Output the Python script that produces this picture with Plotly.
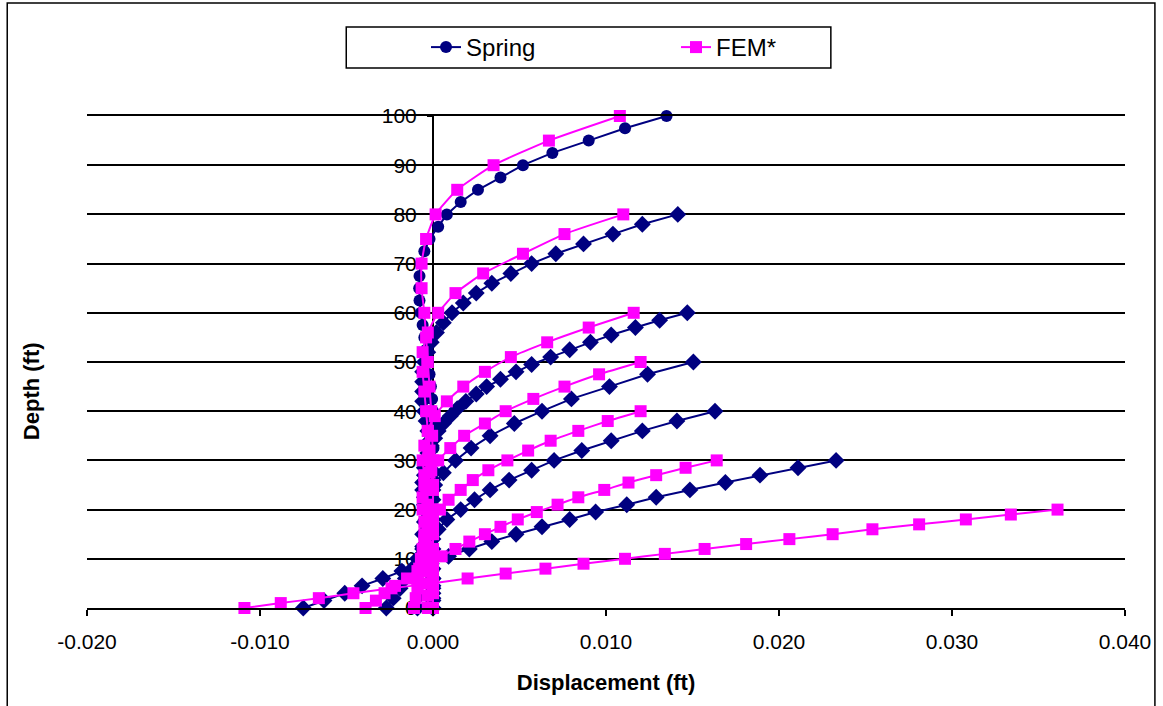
import plotly.graph_objects as go

# ---------------- data (depth in ft, displacement in ft) ----------------
spring_100_depth = [100, 97.5, 95, 92.5, 90, 87.5, 85, 82.5, 80, 77.5, 75, 72.5, 70, 67.5, 65, 62.5, 60,
                    57.5, 55, 52.5, 50, 47.5, 45, 42.5, 40, 37.5, 35, 32.5, 30, 27.5, 25, 22.5, 20,
                    17.5, 15, 12.5, 10, 7.5, 5, 2.5, 0]
spring_100_disp = [0.0135, 0.0111, 0.0090, 0.0069, 0.0052, 0.0039, 0.0026, 0.0016, 0.0008, 0.0003, -0.0002,
                   -0.0005, -0.0007, -0.00078, -0.0008, -0.00078, -0.0007, -0.0006, -0.0005, -0.0004, -0.0003,
                   -0.0002, -0.00012, -0.00005, 0.0, 0.00002, 0.00003, 0.00003, 0.00002, 0.00001, 0.0,
                   0.0, 0.0, 0.0, 0.0, 0.0, 0.0, 0.0, 0.0, 0.0, 0.0]

spring_80_depth = [80, 78, 76, 74, 72, 70, 68, 66, 64, 62, 60, 58, 56, 54, 52, 50, 48, 46, 44, 42, 40,
                   38, 36, 34, 32, 30, 28, 26, 24, 22, 20, 18, 16, 14, 12, 10, 8, 6, 4, 2, 0]
spring_80_disp = [0.01415, 0.0121, 0.0104, 0.0087, 0.0071, 0.0057, 0.0045, 0.0034, 0.0025, 0.00175, 0.0011,
                  0.0006, 0.0002, -0.0001, -0.0003, -0.0005, -0.0006, -0.0006, -0.0006, -0.0006, -0.0005,
                  -0.0004, -0.0003, -0.0002, -0.00015, -0.0001, -0.00005, 0.0, 0.0, 0.0, 0.0,
                  0.0, 0.0, 0.0, 0.0, 0.0, 0.0, 0.0, 0.0, 0.0, 0.0]

spring_60_depth = [60, 58.5, 57, 55.5, 54, 52.5, 51, 49.5, 48, 46.5, 45, 43.5, 42, 40.5, 39, 37.5, 36,
                   34.5, 33, 31.5, 30, 28.5, 27, 25.5, 24, 22.5, 21, 19.5, 18, 16.5, 15, 13.5, 12,
                   10.5, 9, 7.5, 6, 4.5, 3, 1.5, 0]
spring_60_disp = [0.0147, 0.0131, 0.0117, 0.0103, 0.0091, 0.0079, 0.0068, 0.0057, 0.0048, 0.0039, 0.0031,
                  0.0025, 0.0019, 0.0014, 0.0010, 0.0006, 0.0003, 0.0001, -0.0001, -0.0003, -0.0004,
                  -0.0005, -0.0005, -0.0006, -0.0006, -0.0005, -0.0005, -0.0004, -0.0004, -0.0003, -0.0003,
                  -0.0002, -0.0002, -0.0001, -0.0001, -0.0001, 0.0, 0.0, 0.0, 0.0, 0.0]

spring_50_depth = [50, 47.5, 45, 42.5, 40, 37.5, 35, 32.5, 30, 27.5, 25, 22.5, 20, 17.5, 15, 12.5, 10, 7.5, 5, 2.5, 0]
spring_50_disp = [0.01505, 0.0124, 0.0102, 0.0080, 0.0063, 0.0047, 0.0033, 0.0022, 0.0013, 0.0006, 0.0001,
                  -0.0002, -0.0004, -0.0005, -0.0006, -0.0006, -0.0006, -0.0007, -0.0007, -0.0008, -0.0009]

spring_40_depth = [40, 38, 36, 34, 32, 30, 28, 26, 24, 22, 20, 18, 16, 14, 12, 10, 8, 6, 4, 2, 0]
spring_40_disp = [0.0163, 0.0141, 0.0121, 0.0103, 0.0086, 0.0070, 0.0057, 0.0044, 0.0033, 0.0024, 0.0016,
                  0.0008, 0.0003, -0.0002, -0.0006, -0.0009, -0.0012, -0.0016, -0.0019, -0.0023, -0.0027]

spring_30_depth = [30, 28.5, 27, 25.5, 24, 22.5, 21, 19.5, 18, 16.5, 15, 13.5, 12, 10.5, 9, 7.5, 6, 4.5, 3, 1.5, 0]
spring_30_disp = [0.0233, 0.0211, 0.0189, 0.0169, 0.01485, 0.0129, 0.0112, 0.0094, 0.0079, 0.0063, 0.0048,
                  0.0034, 0.0021, 0.0009, -0.0004, -0.0018, -0.0029, -0.0041, -0.0051, -0.0063, -0.0075]

fem_100_depth = [100, 95, 90, 85, 80, 75, 70, 65, 60, 55, 50, 45, 40, 35, 30, 25, 20, 15, 10, 5, 0]
fem_100_disp = [0.0108, 0.0067, 0.0035, 0.0014, 0.00015, -0.0004, -0.00066, -0.00066, -0.0005, -0.0004, -0.0003,
                -0.0002, -0.0001, -0.00005, 0.0, 0.0, 0.0, 0.0, 0.0, 0.0, 0.0]

fem_80_depth = [80, 76, 72, 68, 64, 60, 56, 52, 48, 44, 40, 36, 32, 28, 24, 20, 16, 12, 8, 4, 0]
fem_80_disp = [0.0110, 0.0076, 0.0052, 0.0029, 0.0013, 0.0003, -0.0003, -0.0006, -0.0006, -0.0005, -0.0004,
               -0.0003, -0.0002, -0.0001, 0.0, 0.0, 0.0, 0.0, 0.0, 0.0, 0.0]

fem_60_depth = [60, 57, 54, 51, 48, 45, 42, 39, 36, 33, 30, 27, 24, 21, 18, 15, 12, 9, 6, 3, 0]
fem_60_disp = [0.0116, 0.0090, 0.0066, 0.0045, 0.0030, 0.00175, 0.0008, 0.0001, -0.0003, -0.0005, -0.0006,
               -0.0005, -0.0004, -0.0003, -0.0002, -0.0002, -0.0001, -0.0001, 0.0, 0.0, 0.0]

fem_50_depth = [50, 47.5, 45, 42.5, 40, 37.5, 35, 32.5, 30, 27.5, 25, 22.5, 20, 17.5, 15, 12.5, 10, 7.5, 5, 2.5, 0]
fem_50_disp = [0.0120, 0.0096, 0.0076, 0.0058, 0.0042, 0.0030, 0.0018, 0.0010, 0.0003, -0.0002, -0.0005,
               -0.0006, -0.0006, -0.0005, -0.0005, -0.0004, -0.0004, -0.0003, -0.0003, -0.0003, -0.0003]

fem_40_depth = [40, 38, 36, 34, 32, 30, 28, 26, 24, 22, 20, 18, 16, 14, 12, 10, 8, 6, 4, 2, 0]
fem_40_disp = [0.0120, 0.0101, 0.0084, 0.0068, 0.0055, 0.0043, 0.0032, 0.0023, 0.0016, 0.0009, 0.0004,
               0.0000, -0.0003, -0.0005, -0.0006, -0.0007, -0.0008, -0.0009, -0.0009, -0.0010, -0.0011]

fem_30_depth = [30, 28.5, 27, 25.5, 24, 22.5, 21, 19.5, 18, 16.5, 15, 13.5, 12, 10.5, 9, 7.5, 6, 4.5, 3, 1.5, 0]
fem_30_disp = [0.0164, 0.0146, 0.0129, 0.0113, 0.0099, 0.0084, 0.0072, 0.0060, 0.0049, 0.0039, 0.0030,
               0.0021, 0.0013, 0.0005, -0.0002, -0.0009, -0.0015, -0.0022, -0.0028, -0.0033, -0.0039]

fem_20_depth = [20, 19, 18, 17, 16, 15, 14, 13, 12, 11, 10, 9, 8, 7, 6, 5, 4, 3, 2, 1, 0]
fem_20_disp = [0.0361, 0.0334, 0.0308, 0.0281, 0.0254, 0.0231, 0.0206, 0.0181, 0.0157, 0.0134, 0.0111,
               0.0087, 0.0065, 0.0042, 0.0020, -0.0001, -0.0024, -0.0046, -0.0066, -0.0088, -0.0109]

x_tick_vals = [-0.02, -0.01, 0.0, 0.01, 0.02, 0.03, 0.04]
x_tick_text = ["-0.020", "-0.010", "0.000", "0.010", "0.020", "0.030", "0.040"]
y_tick_vals = [0, 10, 20, 30, 40, 50, 60, 70, 80, 90, 100]

spring_series = [
    (spring_100_disp, spring_100_depth, "circle"),
    (spring_80_disp, spring_80_depth, "diamond"),
    (spring_60_disp, spring_60_depth, "diamond"),
    (spring_50_disp, spring_50_depth, "diamond"),
    (spring_40_disp, spring_40_depth, "diamond"),
    (spring_30_disp, spring_30_depth, "diamond"),
]
fem_series = [
    (fem_100_disp, fem_100_depth),
    (fem_80_disp, fem_80_depth),
    (fem_60_disp, fem_60_depth),
    (fem_50_disp, fem_50_depth),
    (fem_40_disp, fem_40_depth),
    (fem_30_disp, fem_30_depth),
    (fem_20_disp, fem_20_depth),
]

NAVY = "#000080"
MAGENTA = "#FF00FF"
FONT = "Liberation Sans, Arial, sans-serif"

fig = go.Figure()
for i, (xs, ys, sym) in enumerate(spring_series):
    assert len(xs) == len(ys)
    fig.add_trace(go.Scatter(
        x=xs, y=ys, mode="lines+markers", name="Spring",
        legendgroup="spring", showlegend=(i == 0), cliponaxis=False,
        line=dict(color=NAVY, width=2),
        marker=dict(symbol=sym, color=NAVY, size=12 if sym == "circle" else 13,
                    line=dict(color=NAVY, width=0)),
    ))
for i, (xs, ys) in enumerate(fem_series):
    assert len(xs) == len(ys)
    fig.add_trace(go.Scatter(
        x=xs, y=ys, mode="lines+markers", name="FEM*",
        legendgroup="fem", showlegend=(i == 0), cliponaxis=False,
        line=dict(color=MAGENTA, width=2, shape="spline", smoothing=0.5),
        marker=dict(symbol="square", color=MAGENTA, size=12, line=dict(color=MAGENTA, width=0)),
    ))

L, R, T, B = 87, 35, 116, 98
W, H = 1163, 706
pw, ph = W - L - R, H - T - B


def px_x(p):
    return (p - L) / pw


def px_y(p):
    return (H - B - p) / ph


fig.update_layout(
    width=W, height=H,
    margin=dict(l=L, r=R, t=T, b=B),
    paper_bgcolor="white", plot_bgcolor="white",
    font=dict(family=FONT, color="black", size=21),
    showlegend=True,
    legend=dict(
        orientation="h", x=px_x(427), xanchor="left", y=px_y(47.5), yanchor="middle",
        font=dict(size=24, family=FONT), bgcolor="rgba(0,0,0,0)", borderwidth=0,
        entrywidth=205, entrywidthmode="pixels", traceorder="normal",
    ),
    xaxis=dict(
        range=[-0.02, 0.04], domain=[0, 1],
        tickvals=x_tick_vals, ticktext=x_tick_text,
        showgrid=False, zeroline=False,
        showline=True, linecolor="black", linewidth=2, mirror=True,
        ticks="outside", ticklen=6, tickwidth=2, tickcolor="black",
        tickfont=dict(size=21, family=FONT),
        ticklabelstandoff=8,
        title=dict(text="<b>Displacement (ft)</b>", font=dict(size=22, family=FONT), standoff=22),
    ),
    yaxis=dict(
        range=[0, 100], tickvals=y_tick_vals,
        anchor="free", position=1 / 3, side="left",
        showgrid=True, gridcolor="black", gridwidth=2,
        zeroline=False, showline=True, linecolor="black", linewidth=2,
        ticks="outside", ticklen=5, tickwidth=2, tickcolor="black",
        tickfont=dict(size=21, family=FONT), ticklabelstandoff=6,
        layer="below traces",
    ),
    annotations=[dict(
        text="<b>Depth (ft)</b>", textangle=-90, x=px_x(31), y=px_y(391),
        xref="paper", yref="paper", xanchor="center", yanchor="middle", showarrow=False,
        font=dict(size=22, family=FONT, color="black"),
    )],
    shapes=[
        dict(type="rect", xref="paper", yref="paper",
             x0=px_x(347), x1=px_x(833), y0=px_y(68), y1=px_y(27),
             line=dict(color="black", width=1.5), fillcolor="rgba(0,0,0,0)"),
        dict(type="rect", xref="paper", yref="paper",
             x0=px_x(7), x1=px_x(1158), y0=px_y(712), y1=px_y(3),
             line=dict(color="black", width=1.5), fillcolor="rgba(0,0,0,0)"),
    ],
)

fig.write_html("out.html")
